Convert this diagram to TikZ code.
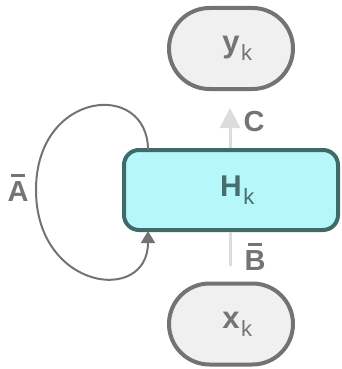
\documentclass[tikz,border=0pt]{standalone}
\usepackage{fontspec}
\setmainfont{Liberation Sans}
\usepackage{xcolor}
\usetikzlibrary{positioning,arrows.meta,shapes.misc}
\definecolor{edgegray}{HTML}{737373}
\definecolor{pillbg}{HTML}{F0F0F0}
\definecolor{statebg}{HTML}{B6F8FA}
\definecolor{stateedge}{HTML}{3E6A6A}
\definecolor{flowgray}{HTML}{DCDCDC}
\definecolor{labelgray}{HTML}{747474}
\newcommand{\barlbl}[1]{\ooalign{\hfil\raisebox{0.86em}{\rule{0.5em}{0.08em}}\hfil\cr#1\cr}}
\newcommand{\subk}{\rlap{\kern1.5pt\raisebox{-8pt}{\fontsize{22}{24}\selectfont\mdseries k}}}

\begin{document}
\begin{tikzpicture}[
    x=1pt, y=-1pt,
    pill/.style={rounded rectangle, draw=edgegray, line width=4pt, fill=pillbg, minimum width=124pt, minimum height=81pt, inner sep=0pt, font=\fontsize{31}{33}\selectfont\bfseries, text=labelgray},
    state/.style={draw=stateedge, line width=4pt, fill=statebg, minimum width=214pt, minimum height=80pt, rounded corners=15pt, inner sep=0pt, font=\fontsize{30}{32}\selectfont\bfseries, text=stateedge!85!gray},
    flow/.style={-{Triangle[length=20pt,width=20pt]}, line width=3pt, draw=flowgray},
    loop/.style={-{Triangle[length=12pt,width=14pt]}, line width=2pt, draw=edgegray},
    lbl/.style={font=\fontsize{29}{31}\selectfont\bfseries, text=labelgray, inner sep=0pt}
]
    \useasboundingbox (0,0) rectangle (342,369);

    % Nodes
    \node[state] (h) at (231,190) {H\subk};
    \node[pill] (y) at (231,48.5) {y\subk};
    \node[pill] (x) at (231,324) {x\subk};

    % Input and output
    \coordinate (ctip) at (230,108);
    \coordinate (bfoot) at (230,266);
    \draw[flow] (h.north -| ctip) -- (ctip);
    \draw[line width=3pt, draw=flowgray] (bfoot) -- (bfoot |- h.south);
    \node[lbl] (c) at (254,122) {C};
    \node[lbl] (b) at (255,257) {\barlbl{B}};

    % Recurrence
    \coordinate (astart) at (148,150);
    \coordinate (aend) at (148,231);
    \draw[loop] (astart) .. controls (148,80) and (36,90) .. (36,190)
        .. controls (36,290) and (148,305) .. (aend);
    \node[lbl] (a) at (18,188) {\barlbl{A}};
\end{tikzpicture}
\end{document}
